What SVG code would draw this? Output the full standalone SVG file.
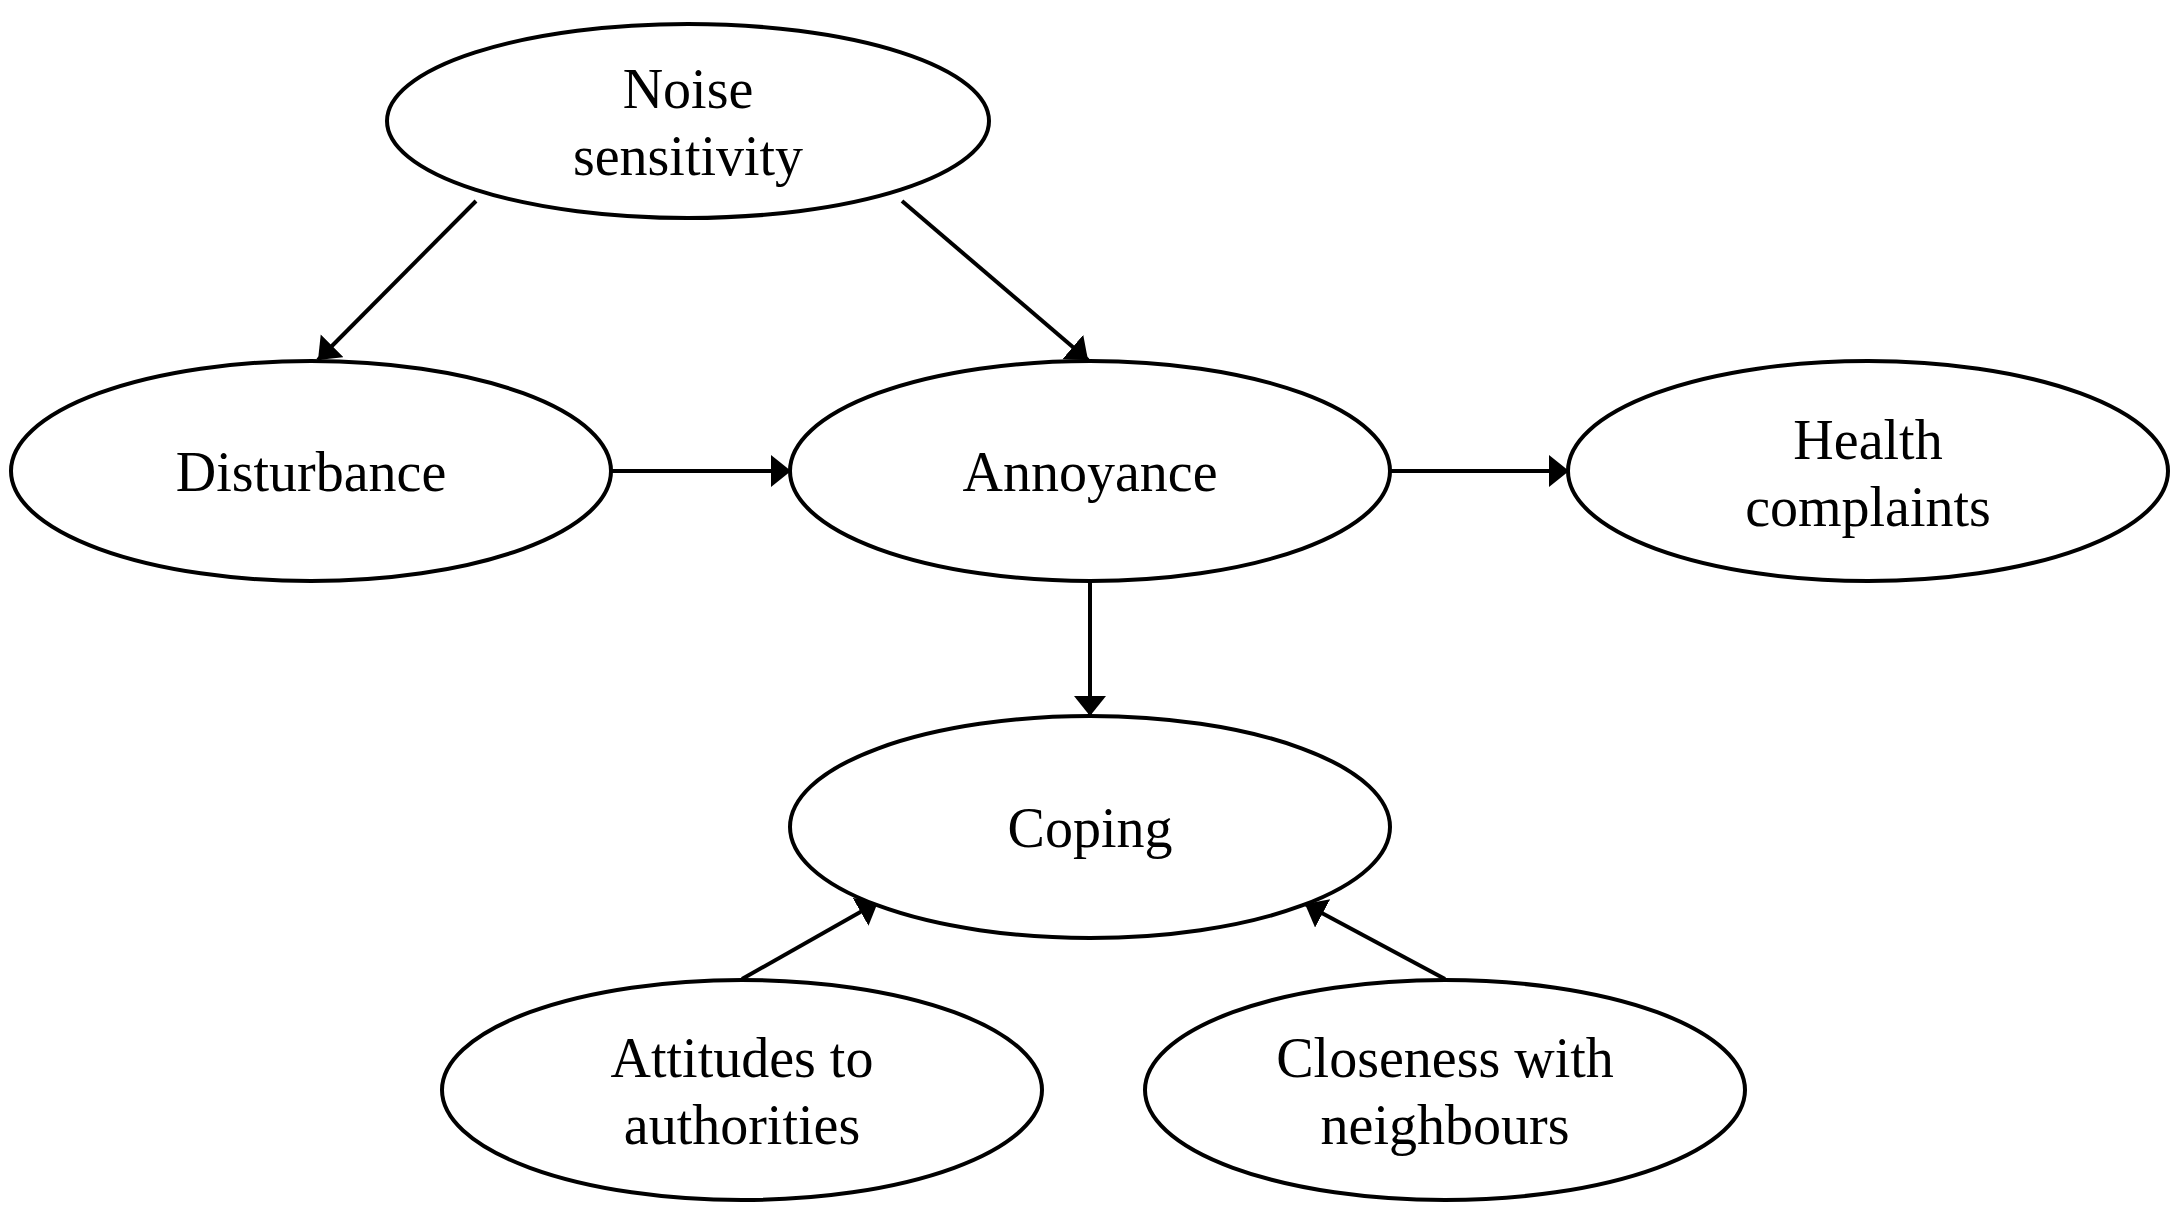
<svg xmlns="http://www.w3.org/2000/svg" width="2175" height="1206" viewBox="0 0 2175 1206">
<style>
.node ellipse{fill:#fff;stroke:#000;stroke-width:4}
.node text{font-family:"Liberation Serif","Times New Roman",serif;font-size:56px;fill:#000;text-anchor:middle}
.edges line{stroke:#000;stroke-width:4;marker-end:url(#arr)}
</style>
<defs>
<marker id="arr" markerUnits="userSpaceOnUse" markerWidth="22" markerHeight="34" refX="20" refY="16" orient="auto">
<path d="M0,0 L20,16 L0,32 z" fill="#000"/>
</marker>
</defs>
<rect width="2175" height="1206" fill="#fff"/>
<g class="edges">
<line x1="476" y1="201" x2="318" y2="360"/>
<line x1="902" y1="201" x2="1088" y2="360"/>
<line x1="612" y1="471" x2="791" y2="471"/>
<line x1="1391" y1="471" x2="1569" y2="471"/>
<line x1="1090" y1="582" x2="1090" y2="716"/>
<line x1="742" y1="979" x2="878" y2="902"/>
<line x1="1445" y1="979" x2="1305" y2="904"/>
</g>
<g id="noise" class="node"><ellipse cx="688" cy="121" rx="301" ry="97"/><text x="688" y="108">Noise</text><text x="688" y="175">sensitivity</text></g>
<g id="disturbance" class="node"><ellipse cx="311" cy="471" rx="300" ry="110"/><text x="311" y="491">Disturbance</text></g>
<g id="annoyance" class="node"><ellipse cx="1090" cy="471" rx="300" ry="110"/><text x="1090" y="491">Annoyance</text></g>
<g id="health" class="node"><ellipse cx="1868" cy="471" rx="300" ry="110"/><text x="1868" y="459">Health</text><text x="1868" y="526">complaints</text></g>
<g id="coping" class="node"><ellipse cx="1090" cy="827" rx="300" ry="111"/><text x="1090" y="847">Coping</text></g>
<g id="attitudes" class="node"><ellipse cx="742" cy="1090" rx="300" ry="110"/><text x="742" y="1077">Attitudes to</text><text x="742" y="1144">authorities</text></g>
<g id="closeness" class="node"><ellipse cx="1445" cy="1090" rx="300" ry="110"/><text x="1445" y="1077">Closeness with</text><text x="1445" y="1144">neighbours</text></g>
</svg>
